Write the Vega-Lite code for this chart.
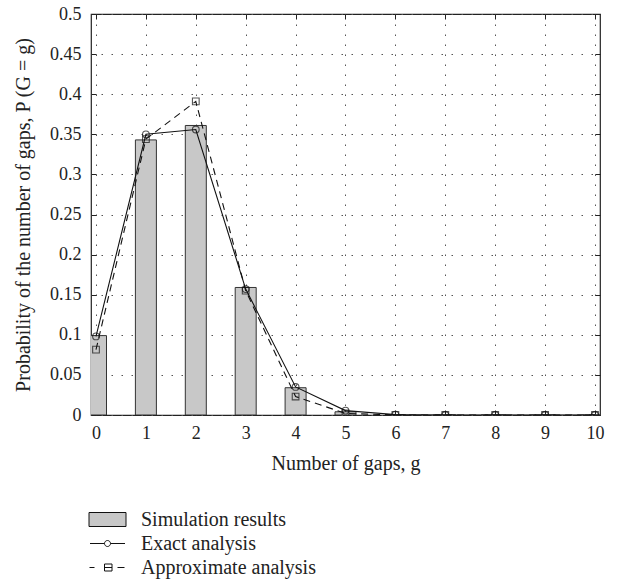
{
  "$schema": "https://vega.github.io/schema/vega-lite/v6.json",
  "width": 509,
  "height": 401,
  "autosize": "none",
  "padding": {"left": 91, "top": 14, "right": 19, "bottom": 170},
  "background": "white",
  "config": {
    "font": "Liberation Serif",
    "view": {"stroke": "#222", "strokeWidth": 1.2},
    "axis": {
      "labelFont": "Liberation Serif",
      "titleFont": "Liberation Serif",
      "labelFontSize": 18,
      "titleFontSize": 20,
      "labelColor": "#222",
      "titleColor": "#222",
      "titleFontWeight": "normal",
      "domain": false,
      "tickColor": "#222",
      "tickSize": -5,
      "gridColor": "#555",
      "gridDash": [1.5, 8.5],
      "gridWidth": 1
    }
  },
  "data": {
    "values": [
      {"g": 0, "series": "Simulation results", "p": 0.099},
      {"g": 1, "series": "Simulation results", "p": 0.343},
      {"g": 2, "series": "Simulation results", "p": 0.361},
      {"g": 3, "series": "Simulation results", "p": 0.159},
      {"g": 4, "series": "Simulation results", "p": 0.034},
      {"g": 5, "series": "Simulation results", "p": 0.004},
      {"g": 6, "series": "Simulation results", "p": 0},
      {"g": 7, "series": "Simulation results", "p": 0},
      {"g": 8, "series": "Simulation results", "p": 0},
      {"g": 9, "series": "Simulation results", "p": 0},
      {"g": 10, "series": "Simulation results", "p": 0},
      {"g": 0, "series": "Exact analysis", "p": 0.098},
      {"g": 1, "series": "Exact analysis", "p": 0.35},
      {"g": 2, "series": "Exact analysis", "p": 0.356},
      {"g": 3, "series": "Exact analysis", "p": 0.157},
      {"g": 4, "series": "Exact analysis", "p": 0.035},
      {"g": 5, "series": "Exact analysis", "p": 0.0055},
      {"g": 6, "series": "Exact analysis", "p": 0.0005},
      {"g": 7, "series": "Exact analysis", "p": 0},
      {"g": 8, "series": "Exact analysis", "p": 0},
      {"g": 9, "series": "Exact analysis", "p": 0},
      {"g": 10, "series": "Exact analysis", "p": 0},
      {"g": 0, "series": "Approximate analysis", "p": 0.0815},
      {"g": 1, "series": "Approximate analysis", "p": 0.344},
      {"g": 2, "series": "Approximate analysis", "p": 0.391},
      {"g": 3, "series": "Approximate analysis", "p": 0.155},
      {"g": 4, "series": "Approximate analysis", "p": 0.023},
      {"g": 5, "series": "Approximate analysis", "p": 0.002},
      {"g": 6, "series": "Approximate analysis", "p": 0},
      {"g": 7, "series": "Approximate analysis", "p": 0},
      {"g": 8, "series": "Approximate analysis", "p": 0},
      {"g": 9, "series": "Approximate analysis", "p": 0},
      {"g": 10, "series": "Approximate analysis", "p": 0}
    ]
  },
  "resolve": {"axis": {"x": "independent", "y": "independent"}},
  "layer": [
    {
      "transform": [{"filter": "datum.series === 'Simulation results'"}],
      "mark": {"type": "bar", "width": 21, "fill": "#c8c8c8", "stroke": "#333", "strokeWidth": 1, "clip": true},
      "encoding": {
        "x": {
          "field": "g", "type": "quantitative",
          "scale": {"domain": [0, 10], "nice": false, "zero": false},
          "axis": {"orient": "bottom", "values": [0,1,2,3,4,5,6,7,8,9,10], "grid": true, "labelPadding": 14, "title": "Number of gaps, g", "titlePadding": 11}
        },
        "y": {
          "field": "p", "type": "quantitative",
          "scale": {"domain": [0, 0.5], "nice": false},
          "axis": {"orient": "left", "values": [0,0.05,0.1,0.15,0.2,0.25,0.3,0.35,0.4,0.45,0.5], "grid": true, "labelPadding": 15, "labelExpr": "datum.value === 0 ? '0' : format(datum.value, '.2~f')", "title": "Probability of the number of gaps, P (G = g)", "titlePadding": 16}
        }
      }
    },
    {
      "transform": [{"filter": "datum.series === 'Exact analysis'"}],
      "mark": {"type": "line", "color": "#111", "strokeWidth": 1.1, "clip": true},
      "encoding": {
        "x": {"field": "g", "type": "quantitative", "axis": {"orient": "top", "values": [0,1,2,3,4,5,6,7,8,9,10], "labels": false, "grid": false, "title": null}},
        "y": {"field": "p", "type": "quantitative", "axis": {"orient": "right", "values": [0,0.05,0.1,0.15,0.2,0.25,0.3,0.35,0.4,0.45,0.5], "labels": false, "grid": false, "title": null}}
      }
    },
    {
      "transform": [{"filter": "datum.series === 'Approximate analysis'"}],
      "mark": {"type": "line", "color": "#111", "strokeWidth": 1.1, "strokeDash": [7, 5], "clip": true},
      "encoding": {
        "x": {"field": "g", "type": "quantitative", "axis": null},
        "y": {"field": "p", "type": "quantitative", "axis": null}
      }
    },
    {
      "transform": [{"filter": "datum.series === 'Exact analysis'"}],
      "mark": {"type": "point", "shape": "circle", "size": 45, "stroke": "#111", "strokeWidth": 1.1, "filled": false, "clip": true},
      "encoding": {
        "x": {"field": "g", "type": "quantitative", "axis": null},
        "y": {"field": "p", "type": "quantitative", "axis": null}
      }
    },
    {
      "transform": [{"filter": "datum.series === 'Approximate analysis'"}],
      "mark": {"type": "point", "shape": "square", "size": 45, "stroke": "#111", "strokeWidth": 1.1, "filled": false, "clip": true},
      "encoding": {
        "x": {"field": "g", "type": "quantitative", "axis": null},
        "y": {"field": "p", "type": "quantitative", "axis": null}
      }
    },
    {
      "mark": {"type": "point", "opacity": 0, "stroke": "#111", "strokeWidth": 1},
      "encoding": {
        "x": {"field": "g", "type": "quantitative", "axis": null},
        "y": {"field": "p", "type": "quantitative", "axis": null},
        "shape": {
          "field": "series", "type": "nominal",
          "scale": {
            "domain": ["Simulation results", "Exact analysis", "Approximate analysis"],
            "range": [
              "M-1.85,-0.7H1.85V0.7H-1.85Z",
              "M-1.75,0H-0.3 M0.3,0H1.75 M-0.3,0A0.3,0.3 0 1,0 0.3,0A0.3,0.3 0 1,0 -0.3,0",
              "M-1.8,0H-1.3 M1.0,0H1.7 M-0.3,-0.35H0.45V0.35H-0.3Z M-0.3,0H0.45"
            ]
          },
          "legend": {
            "orient": "none", "legendX": 6, "legendY": 495, "title": null,
            "symbolSize": 400, "symbolStrokeWidth": 1, "symbolOpacity": 1,
            "labelFont": "Liberation Serif", "labelFontSize": 20, "labelColor": "#222",
            "labelOffset": 23, "rowPadding": 3, "labelLimit": 400
          }
        },
        "fill": {
          "field": "series", "type": "nominal",
          "scale": {
            "domain": ["Simulation results", "Exact analysis", "Approximate analysis"],
            "range": ["#c8c8c8", "white", "white"]
          },
          "legend": {
            "orient": "none", "legendX": 6, "legendY": 495, "title": null,
            "symbolSize": 400, "symbolStrokeWidth": 1, "symbolOpacity": 1,
            "labelFont": "Liberation Serif", "labelFontSize": 20, "labelColor": "#222",
            "labelOffset": 23, "rowPadding": 3, "labelLimit": 400
          }
        }
      }
    }
  ]
}
